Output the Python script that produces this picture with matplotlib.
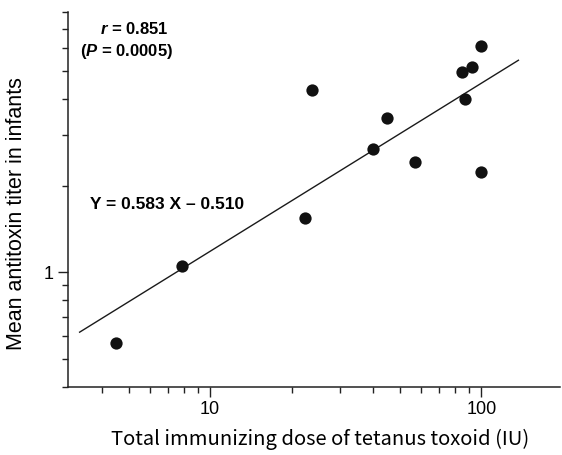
import numpy as np
import matplotlib
matplotlib.use("Agg")
import matplotlib.pyplot as plt
from matplotlib.ticker import FixedLocator, NullFormatter, FixedFormatter

# total immunizing dose (IU) vs mean antitoxin titer in infants
dose = [4.5, 7.9, 22.3, 23.7, 39.8, 45.0, 57.0, 84.9, 86.7, 92.5, 99.6, 100.0]
titer = [0.568, 1.05, 1.54, 4.29, 2.67, 3.44, 2.41, 4.96, 4.00, 5.16, 6.09, 2.22]

# log10(Y) = slope * log10(X) + intercept
slope = 0.583
intercept = -0.510
fit_range = [3.3, 137.0]

plt.rcParams['font.family'] = ['Liberation Sans', 'DejaVu Sans']
plt.rcParams['mathtext.fontset'] = 'custom'
plt.rcParams['mathtext.rm'] = 'Liberation Sans'
plt.rcParams['mathtext.bf'] = 'Liberation Sans:bold'
plt.rcParams['mathtext.bfit'] = 'Liberation Sans:italic:bold'

fig = plt.figure(figsize=(5.62, 4.55), dpi=100)
ax = fig.add_axes([68/562, 68/455, 492/562, 375/455])

ax.set_xscale('log')
ax.set_yscale('log')
ax.set_xlim(2.99, 195)
ax.set_ylim(0.4, 8.0)

xf = np.array(fit_range)
yf = 10 ** (slope * np.log10(xf) + intercept)
ax.plot(xf, yf, color='#1a1a1a', lw=1.0)
ax.scatter(dose, titer, s=78, color='#111111', zorder=3, linewidths=0)

for s in ['top', 'right']:
    ax.spines[s].set_visible(False)
for s in ['left', 'bottom']:
    ax.spines[s].set_linewidth(1.1)
    ax.spines[s].set_color('#222222')

ax.xaxis.set_major_locator(FixedLocator([10, 100]))
ax.xaxis.set_major_formatter(FixedFormatter(['10', '100']))
ax.xaxis.set_minor_locator(FixedLocator([4, 5, 6, 7, 8, 9, 20, 30, 40, 50, 60, 70, 80, 90]))
ax.xaxis.set_minor_formatter(NullFormatter())

ax.yaxis.set_major_locator(FixedLocator([1]))
ax.yaxis.set_major_formatter(FixedFormatter(['1']))
ax.yaxis.set_minor_locator(FixedLocator([0.4, 0.5, 0.6, 0.7, 0.8, 0.9, 2, 3, 4, 5, 6, 7, 8]))
ax.yaxis.set_minor_formatter(NullFormatter())

ax.tick_params(which='major', length=7, width=1.0, color='#222222', labelsize=13, pad=3)
ax.tick_params(which='minor', length=4, width=1.0, color='#222222')

ax.set_xlabel('Total immunizing dose of tetanus toxoid (IU)', fontsize=14.5,
              family=['Noto Sans CJK JP', 'DejaVu Sans'])
ax.set_ylabel('Mean antitoxin titer in infants', fontsize=15.5)
ax.xaxis.set_label_coords(0.512, -0.112)
ax.yaxis.set_label_coords(-0.083, 0.462)

ax.text(0.065, 0.955, r'$\mathbfit{r}$ = 0.851', transform=ax.transAxes, fontsize=12,
        fontweight='bold', ha='left', va='center')
ax.text(0.025, 0.895, r'($\mathbfit{P}$ = 0.0005)', transform=ax.transAxes, fontsize=12,
        fontweight='bold', ha='left', va='center')
ax.text(0.045, 0.487, 'Y = 0.583 X \u2013 0.510', transform=ax.transAxes, fontsize=12.5,
        fontweight='bold', ha='left', va='center')

fig.savefig('out.png', dpi=100)
